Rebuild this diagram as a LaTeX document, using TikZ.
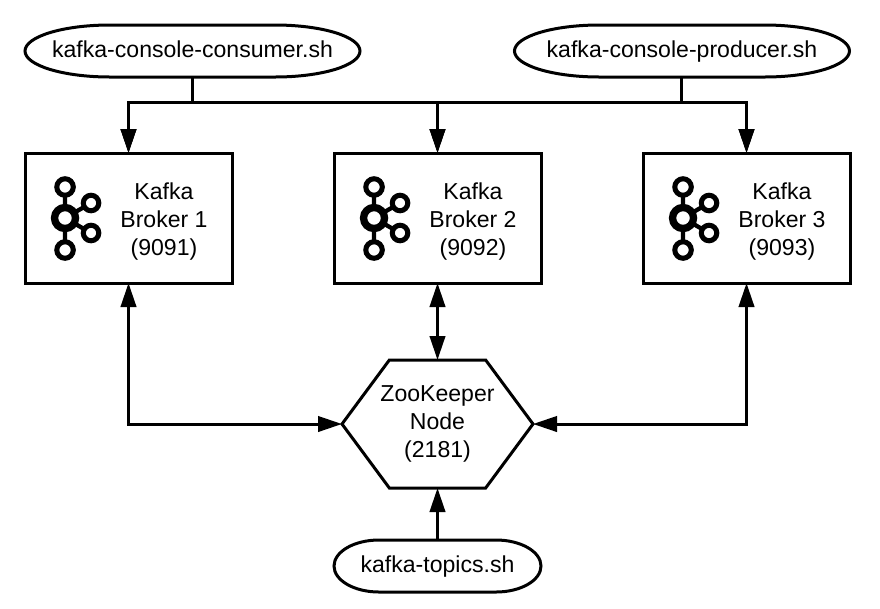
\documentclass[tikz,border=0pt]{standalone}
\usepackage{fontspec}
\setmainfont{Liberation Sans}
\usetikzlibrary{shapes.geometric, shapes.symbols, arrows.meta, positioning}

\begin{document}
\begin{tikzpicture}[
    x=0.75pt, y=-0.75pt,
    every node/.style={font=\fontsize{17.3}{21}\selectfont, outer sep=0pt, inner sep=0pt},
    broker/.style={rectangle, draw, line width=2.25pt, minimum width=155.25pt, minimum height=97.5pt},
    brokertext/.style={align=center},
    script/.style={rectangle, minimum width=251.25pt, minimum height=39pt, text height=12pt, text depth=3pt},
    oval/.style={line width=2.25pt},
    zookeeper/.style={signal, signal to=west and east, signal pointer angle=107, draw, line width=2.25pt, minimum width=143.25pt, minimum height=96pt},
    arrow/.style={-{Triangle[length=18pt, width=11.5pt]}, line width=2.25pt},
    twoway/.style={{Triangle[length=18pt, width=11.5pt]}-{Triangle[length=18pt, width=11.5pt]}, line width=2.25pt},
    kafkaicon/.pic={
        \draw[line width=3.2pt] (0,-31) -- (0,32) (0,0) -- (26,-15) (0,0) -- (26,15);
        \draw[line width=5.5pt, fill=white] (0,0) circle (10.5);
        \draw[line width=3.8pt, fill=white] (0,-31) circle (8.25);
        \draw[line width=3.8pt, fill=white] (0,32) circle (8.25);
        \draw[line width=3.8pt, fill=white] (26,-15) circle (7.75);
        \draw[line width=3.8pt, fill=white] (26,15) circle (7.75);
    }
]
\useasboundingbox (0,0) rectangle (880,608);

% Brokers
\node[broker] (broker1) at (128.5,218) {};
\node[broker, right=76.5pt of broker1] (broker2) {};
\node[broker, right=76.5pt of broker2] (broker3) {};

% Broker texts and icons
\node[brokertext] (text1) at ([xshift=26.6pt, yshift=-3pt]broker1.center) {Kafka\\Broker 1\\(9091)};
\node[brokertext] (text2) at ([xshift=26.6pt, yshift=-3pt]broker2.center) {Kafka\\Broker 2\\(9092)};
\node[brokertext] (text3) at ([xshift=26.6pt, yshift=-3pt]broker3.center) {Kafka\\Broker 3\\(9093)};
\pic at ([xshift=-47.6pt]broker1.center) {kafkaicon};
\pic at ([xshift=-47.6pt]broker2.center) {kafkaicon};
\pic at ([xshift=-47.6pt]broker3.center) {kafkaicon};

% Scripts
\node[script, above=57pt of broker1, xshift=48pt] (consumer) {kafka-console-consumer.sh};
\node[script, above=57pt of broker3, xshift=-48.4pt] (producer) {kafka-console-producer.sh};

% ZooKeeper
\node[zookeeper, below=57.75pt of broker2] (zk) {};
\node[brokertext] (zktext) at (zk.center) {ZooKeeper\\Node\\(2181)};
\node[script, below=39pt of zk, minimum width=155.25pt] (topics) {kafka-topics.sh};

% Script outlines
\draw[oval] ([xshift=63.75pt]consumer.north west) -- ([xshift=-63.75pt]consumer.north east) arc[start angle=-90, end angle=90, x radius=85, y radius=26] -- ([xshift=63.75pt]consumer.south west) arc[start angle=90, end angle=270, x radius=85, y radius=26] -- cycle;
\draw[oval] ([xshift=63.75pt]producer.north west) -- ([xshift=-63.75pt]producer.north east) arc[start angle=-90, end angle=90, x radius=85, y radius=26] -- ([xshift=63.75pt]producer.south west) arc[start angle=90, end angle=270, x radius=85, y radius=26] -- cycle;
\draw[oval] ([xshift=33.75pt]topics.north west) -- ([xshift=-33.75pt]topics.north east) arc[start angle=-90, end angle=90, x radius=45, y radius=26] -- ([xshift=33.75pt]topics.south west) arc[start angle=90, end angle=270, x radius=45, y radius=26] -- cycle;

% Arrows
\draw[arrow] (consumer.south) -- ++(0,25) -| (broker1.north);
\draw[arrow] (consumer.south) -- ++(0,25) -| (broker2.north);
\draw[arrow] (consumer.south) -- ++(0,25) -| (broker3.north);
\draw[arrow] (producer.south) -- ++(0,25) -| (broker1.north);
\draw[arrow] (producer.south) -- ++(0,25) -| (broker2.north);
\draw[arrow] (producer.south) -- ++(0,25) -| (broker3.north);
\draw[twoway] (broker1.south) |- (zk.west);
\draw[twoway] (broker2.south) -- (zk.north);
\draw[twoway] (broker3.south) |- (zk.east);
\draw[arrow] (topics.north) -- (zk.south);

\end{tikzpicture}
\end{document}
